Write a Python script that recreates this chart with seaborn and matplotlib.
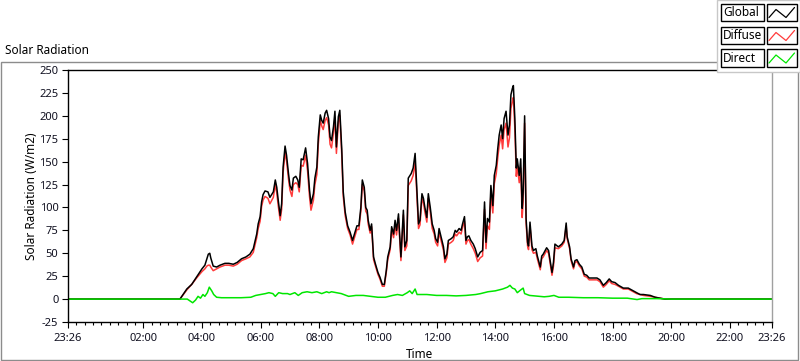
import numpy as np
import pandas as pd
import matplotlib
matplotlib.use("Agg")
import matplotlib.pyplot as plt
import seaborn as sns
from matplotlib.patches import Rectangle
from matplotlib.lines import Line2D

# ---------------- data ----------------
gd_times = ["23:26", "03:15", "03:29", "03:39", "03:49", "04:00", "04:06", "04:10", "04:13", "04:16",
            "04:18", "04:23", "04:30", "04:37", "04:47", "04:55", "05:04", "05:12", "05:21", "05:30",
            "05:38", "05:45", "05:52", "05:55", "05:59", "06:02", "06:05", "06:09", "06:15", "06:19",
            "06:26", "06:30", "06:33", "06:36", "06:40", "06:43", "06:46", "06:50", "06:53", "06:57",
            "07:00", "07:04", "07:07", "07:12", "07:16", "07:19", "07:23", "07:27", "07:32", "07:36",
            "07:40", "07:43", "07:48", "07:51", "07:55", "07:58", "08:02", "08:05", "08:08", "08:12",
            "08:15", "08:19", "08:22", "08:25", "08:29", "08:32", "08:35", "08:39", "08:42", "08:46",
            "08:49", "08:53", "08:58", "09:03", "09:08", "09:13", "09:17", "09:21", "09:25", "09:28",
            "09:32", "09:35", "09:38", "09:40", "09:44", "09:47", "09:51", "09:55", "10:00", "10:04",
            "10:09", "10:13", "10:17", "10:20", "10:25", "10:28", "10:32", "10:35", "10:38", "10:42",
            "10:45", "10:47", "10:52", "10:55", "10:59", "11:02", "11:08", "11:12", "11:16", "11:19",
            "11:23", "11:26", "11:30", "11:33", "11:36", "11:40", "11:43", "11:47", "11:51", "11:55",
            "11:58", "12:02", "12:05", "12:09", "12:14", "12:17", "12:21", "12:24", "12:30", "12:34",
            "12:38", "12:41", "12:46", "12:50", "12:53", "12:57", "13:00", "13:03", "13:06", "13:10",
            "13:15", "13:19", "13:24", "13:29", "13:34", "13:38", "13:41", "13:44", "13:48", "13:51",
            "13:55", "13:58", "14:02", "14:05", "14:08", "14:12", "14:15", "14:18", "14:22", "14:26",
            "14:29", "14:32", "14:35", "14:37", "14:40", "14:43", "14:45", "14:49", "14:52", "14:55",
            "14:57", "15:00", "15:03", "15:06", "15:08", "15:11", "15:15", "15:18", "15:23", "15:26",
            "15:32", "15:35", "15:38", "15:45", "15:49", "15:56", "15:59", "16:02", "16:09", "16:16",
            "16:21", "16:25", "16:27", "16:32", "16:35", "16:40", "16:43", "16:47", "16:52", "16:57",
            "17:02", "17:07", "17:12", "17:21", "17:28", "17:34", "17:41", "17:47", "17:53", "17:58",
            "18:05", "18:12", "18:22", "18:32", "18:42", "18:49", "18:56", "19:03", "19:17", "19:27",
            "19:37", "19:47", "20:00", "23:26"]

global_rad = [0, 0, 11, 16, 24, 33, 37, 44, 49, 50,
              45, 36, 35, 37, 39, 39, 38, 40, 44, 46,
              49, 55, 71, 82, 90, 106, 114, 118, 117, 111,
              117, 130, 122, 108, 91, 104, 144, 167, 157, 137,
              124, 119, 132, 134, 130, 122, 153, 152, 165, 148,
              119, 104, 115, 132, 144, 177, 201, 195, 192, 203,
              206, 197, 177, 173, 188, 205, 166, 199, 206, 163,
              117, 95, 80, 73, 64, 73, 80, 80, 100, 130,
              122, 100, 97, 86, 75, 82, 46, 38, 29, 24,
              16, 16, 31, 46, 57, 79, 71, 86, 75, 93,
              64, 46, 97, 57, 64, 132, 137, 143, 159, 126,
              82, 86, 115, 110, 100, 89, 115, 100, 82, 75,
              66, 62, 77, 68, 57, 44, 49, 64, 66, 68,
              75, 73, 77, 75, 82, 90, 64, 68, 69, 64,
              60, 55, 46, 51, 53, 106, 62, 88, 84, 124,
              102, 135, 146, 164, 179, 190, 175, 197, 205, 179,
              190, 223, 230, 233, 197, 143, 153, 135, 153, 99,
              117, 200, 88, 62, 58, 84, 58, 53, 55, 47,
              35, 47, 49, 56, 53, 29, 40, 60, 57, 60,
              64, 83, 68, 57, 44, 35, 42, 43, 38, 35,
              27, 26, 23, 23, 23, 21, 15, 18, 22, 19,
              18, 15, 12, 12, 9, 7, 5, 5, 4, 2,
              1, 0, 0, 0]

diffuse_rad = [0, 0, 10, 16, 23, 30, 33, 36, 37, 37,
               35, 31, 33, 35, 37, 37, 36, 38, 42, 44,
               46, 51, 67, 77, 85, 101, 108, 112, 110, 104,
               111, 125, 116, 102, 86, 98, 138, 160, 151, 131,
               119, 112, 125, 127, 125, 117, 146, 145, 157, 140,
               112, 97, 108, 125, 136, 169, 195, 189, 185, 195,
               198, 190, 169, 165, 181, 198, 159, 193, 200, 157,
               112, 91, 77, 70, 60, 69, 76, 76, 96, 125,
               118, 96, 93, 82, 72, 79, 43, 36, 27, 22,
               14, 14, 29, 43, 54, 75, 67, 81, 70, 88,
               60, 42, 92, 53, 58, 124, 129, 135, 149, 120,
               77, 81, 110, 105, 95, 84, 110, 95, 77, 71,
               62, 58, 73, 64, 53, 40, 45, 60, 62, 64,
               71, 69, 73, 71, 78, 85, 60, 64, 65, 60,
               55, 50, 41, 45, 47, 98, 55, 80, 76, 115,
               94, 126, 137, 154, 168, 179, 164, 185, 192, 166,
               176, 208, 216, 220, 186, 134, 145, 127, 143, 89,
               106, 192, 83, 58, 54, 80, 54, 50, 51, 44,
               32, 44, 46, 53, 50, 26, 36, 56, 55, 58,
               62, 80, 66, 55, 42, 33, 40, 41, 36, 33,
               25, 24, 21, 21, 21, 19, 13, 16, 20, 17,
               16, 14, 11, 11, 8, 6, 5, 4, 3, 2,
               1, 0, 0, 0]

dir_times = ["23:26", "03:15", "03:30", "03:41", "03:47", "03:52", "03:57", "04:02", "04:06", "04:11",
             "04:15", "04:20", "04:24", "04:30", "04:40", "05:00", "05:20", "05:40", "05:50", "06:00",
             "06:10", "06:17", "06:25", "06:30", "06:37", "06:45", "06:55", "07:00", "07:10", "07:17",
             "07:25", "07:35", "07:45", "07:55", "08:05", "08:15", "08:20", "08:25", "08:35", "08:45",
             "08:50", "09:00", "09:15", "09:30", "09:45", "10:00", "10:15", "10:30", "10:40", "10:50",
             "11:00", "11:05", "11:10", "11:16", "11:20", "11:40", "12:00", "12:20", "12:40", "13:00",
             "13:20", "13:30", "13:45", "14:00", "14:15", "14:25", "14:30", "14:35", "14:40", "14:45",
             "14:52", "14:57", "15:00", "15:10", "15:20", "15:40", "15:50", "16:00", "16:10", "16:20",
             "16:30", "17:00", "17:30", "18:00", "18:30", "18:50", "19:00", "19:30", "20:00", "23:26"]

direct_rad = [0, 0, 0, -4, -1, 3, 1, 5, 3, 7,
              13, 9, 5, 2, 1.5, 1.5, 1.5, 2, 4, 5,
              6, 7, 6, 3, 7, 6, 6, 5, 7, 4,
              7, 8, 7, 8, 6, 8, 7, 8, 7, 6,
              5, 3, 4, 4, 3, 2, 2, 4, 5, 4,
              7, 9, 6, 11, 5, 5, 4, 4, 3.5, 4,
              5, 6, 8, 9, 11, 13, 15, 12, 11, 7,
              10, 12, 6, 4, 3.5, 2.5, 3, 4, 2, 2,
              2, 1.5, 1.5, 1, 1, -0.5, 0.5, 0.5, 0, 0]

x_tick_labels = ["23:26", "02:00", "04:00", "06:00", "08:00", "10:00", "12:00",
                 "14:00", "16:00", "18:00", "20:00", "22:00", "23:26"]
y_ticks = [-25, 0, 25, 50, 75, 100, 125, 150, 175, 200, 225, 250]


def to_minutes(times):
    out = []
    for i, s in enumerate(times):
        h, m = map(int, s.split(":"))
        v = h * 60 + m
        if i == 0:
            v -= 1440  # chart starts the previous evening
        out.append(v)
    return out


t_gd = to_minutes(gd_times)
t_dir = to_minutes(dir_times)
tick_pos = to_minutes(x_tick_labels)

df_gd = pd.DataFrame({"t": t_gd, "Global": global_rad, "Diffuse": diffuse_rad})
df_dir = pd.DataFrame({"t": t_dir, "Direct": direct_rad})

# ---------------- figure ----------------
sns.set_style("white")
plt.rcParams["font.family"] = ["Noto Sans", "DejaVu Sans"]
plt.rcParams["font.size"] = 8

W, H = 800, 361
fig = plt.figure(figsize=(W / 100, H / 100), dpi=100)
fig.patch.set_facecolor("white")


def fx(x):
    return x / W


def fy(y):
    return 1 - y / H


ax = fig.add_axes([fx(68), fy(322), (772 - 68) / W, (322 - 70) / H])

sns.lineplot(data=df_gd, x="t", y="Diffuse", ax=ax, color="#ff3b3b", lw=1.1,
             estimator=None, sort=False)
sns.lineplot(data=df_gd, x="t", y="Global", ax=ax, color="black", lw=1.1,
             estimator=None, sort=False)
sns.lineplot(data=df_dir, x="t", y="Direct", ax=ax, color="#00e600", lw=1.1,
             estimator=None, sort=False)

ax.set_xlim(tick_pos[0], tick_pos[-1])
ax.set_ylim(-25, 250)
ax.set_xticks(tick_pos)
ax.set_xticklabels(x_tick_labels)
ax.set_xticks([k * 120 / 7 for k in range(-1, 83)], minor=True)
ax.set_yticks(y_ticks)
ax.set_yticklabels([str(v) for v in y_ticks])

ax.tick_params(axis="both", which="major", direction="out", length=4.5, width=0.8,
               color="black", labelsize=8, pad=2.5, labelcolor="#101020")
ax.tick_params(axis="x", which="minor", direction="out", length=2.5, width=0.8,
               color="black", bottom=True)
ax.tick_params(axis="x", which="major", bottom=True, pad=3.5)
ax.tick_params(axis="y", which="major", left=True)

for side in ["left", "bottom", "top"]:
    ax.spines[side].set_color("black")
    ax.spines[side].set_linewidth(1.0)
ax.spines["right"].set_color("#a0a0a0")
ax.spines["right"].set_linewidth(1.0)

ax.set_xlabel("Time", fontsize=8.5, color="black")
ax.set_ylabel("Solar Radiation (W/m2)", fontsize=8.5, color="black")
ax.xaxis.set_label_coords(0.5, -0.102)
ax.yaxis.set_label_coords(-0.043, 0.5)

# outer panel frame and title
fig.add_artist(Rectangle((fx(0.5), fy(359.5)), (798 - 0.5) / W, (359.5 - 62) / H,
                         transform=fig.transFigure, facecolor="none",
                         edgecolor="#8c8c8c", lw=1.0))
fig.text(fx(5), fy(50), "Solar Radiation", ha="left", va="center",
         fontsize=8.5, color="black")

# legend panel (LabVIEW style)
fig.add_artist(Rectangle((fx(717), fy(72)), 83 / W, 72 / H,
                         transform=fig.transFigure, facecolor="white",
                         edgecolor="#c8c8c8", lw=1.0, zorder=5))
names = ["Global", "Diffuse", "Direct"]
colors = ["black", "#ff3b3b", "#00e600"]
tops = [3.5, 26.5, 49.0]
for name, c, top in zip(names, colors, tops):
    bh = 17.5
    fig.add_artist(Rectangle((fx(720.5), fy(top + bh)), 43 / W, bh / H,
                             transform=fig.transFigure, facecolor="white",
                             edgecolor="black", lw=1.0, zorder=6))
    fig.text(fx(723), fy(top + bh / 2 + 0.5), name, ha="left", va="center",
             fontsize=8.5, color="black", zorder=7)
    fig.add_artist(Rectangle((fx(766.5), fy(top + bh)), 30 / W, bh / H,
                             transform=fig.transFigure, facecolor="white",
                             edgecolor="black", lw=1.0, zorder=6))
    zx = [769, 776, 786, 794.5]
    zy = [top + 14, top + 6, top + 14, top + 4]
    fig.add_artist(Line2D([fx(v) for v in zx], [fy(v) for v in zy],
                          transform=fig.transFigure, color=c, lw=0.9, zorder=7))

fig.savefig("out.png", dpi=100)
